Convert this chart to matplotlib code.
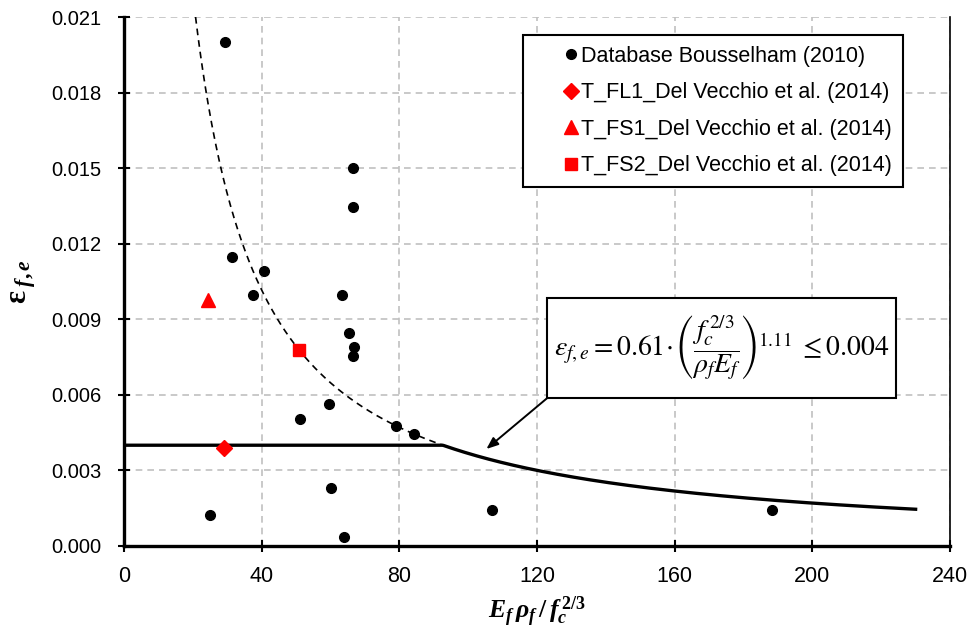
import numpy as np
import matplotlib
matplotlib.use("Agg")
import matplotlib.pyplot as plt
from matplotlib.patches import Rectangle

plt.rcParams['font.family'] = ['Liberation Sans', 'DejaVu Sans']
plt.rcParams['mathtext.fontset'] = 'custom'
plt.rcParams['mathtext.it'] = 'Liberation Serif:italic:bold'
plt.rcParams['mathtext.rm'] = 'Liberation Serif:bold'
plt.rcParams['mathtext.bf'] = 'Liberation Serif:bold'

# database Bousselham (2010)
db_x = [29.3, 31.3, 40.6, 37.4, 63.3, 66.5, 66.5, 65.3, 66.7, 66.5,
        59.5, 51.1, 78.9, 84.2, 60.1, 25.0, 63.8, 106.8, 188.3]
db_y = [0.0200, 0.01147, 0.0109, 0.00996, 0.00996, 0.0150, 0.01346, 0.00846, 0.0079, 0.00754,
        0.00564, 0.00504, 0.00476, 0.00445, 0.0023, 0.00123, 0.00036, 0.00143, 0.00143]

# Del Vecchio et al. (2014)
fl1_x, fl1_y = [29.0], [0.0039]
fs1_x, fs1_y = [24.4], [0.00977]
fs2_x, fs2_y = [50.8], [0.00778]

# model: eps = 0.61 * x^-1.11 <= 0.004
coef = 0.61
expo = 1.11
cap = 0.004
x_end = 230

x_int = (cap / coef) ** (-1.0 / expo)
x_start_dash = (0.021 / coef) ** (-1.0 / expo)

fig = plt.figure(figsize=(9.73, 6.35), dpi=100)
ax = fig.add_axes([0.1274, 0.1402, 0.849, 0.833])

xs = np.linspace(0.01, x_end, 600)
ys = np.minimum(cap, coef * xs ** (-expo))
ax.plot(xs, ys, color='black', lw=2.4, zorder=3)

xd = np.linspace(x_start_dash, x_int, 200)
ax.plot(xd, coef * xd ** (-expo), color='black', lw=1.2, ls=(0, (4, 3)), zorder=3)

ax.plot(db_x, db_y, 'o', color='black', ms=7, ls='none', zorder=4,
        label='Database Bousselham (2010)')
ax.plot(fl1_x, fl1_y, 'D', color='red', ms=8, ls='none', zorder=4,
        label='T_FL1_Del Vecchio et al. (2014)')
ax.plot(fs1_x, fs1_y, '^', color='red', ms=9.5, ls='none', zorder=4,
        label='T_FS1_Del Vecchio et al. (2014)')
ax.plot(fs2_x, fs2_y, 's', color='red', ms=9, ls='none', zorder=4,
        label='T_FS2_Del Vecchio et al. (2014)')

ax.set_xlim(0, 240)
ax.set_ylim(0, 0.021)
ax.set_xticks(np.arange(0, 241, 40))
ax.set_yticks(np.arange(0, 0.0211, 0.003))
ax.set_yticklabels(['%.3f' % v for v in np.arange(0, 0.0211, 0.003)])
ax.tick_params(direction='inout', length=9, width=1.5, color='black')
ax.tick_params(axis='x', pad=10, labelsize=15.5)
ax.tick_params(axis='y', pad=12, labelsize=14.5)

ax.grid(True, color='#c0c0c0', ls=(0, (4, 3)), lw=1.2)
ax.set_axisbelow(True)
for s in ['left', 'bottom']:
    ax.spines[s].set_linewidth(2.4)
ax.spines['right'].set_linewidth(1.2)
ax.spines['top'].set_visible(False)

ax.set_xlabel(r'$E_f\,\rho_f\,/\,f_c^{\,2/3}$', fontsize=18.5, labelpad=5)
ax.set_ylabel(r'$\mathrm{ε}_{\;f,e}$', fontsize=22)
ax.yaxis.set_label_coords(-0.104, 0.5)

leg = ax.legend(loc='upper left', bbox_to_anchor=(0.483, 0.966), fontsize=15.5,
                frameon=True, fancybox=False, edgecolor='black', framealpha=1,
                borderaxespad=0, borderpad=0.5, labelspacing=0.72,
                handlelength=3.5, handletextpad=-1.3, numpoints=1)
leg.get_frame().set_linewidth(1.5)

# formula box with arrow to the capped curve
box_x0, box_x1 = 123.0, 224.3
box_y0, box_y1 = 0.005875, 0.009845
ax.add_patch(Rectangle((box_x0, box_y0), box_x1 - box_x0, box_y1 - box_y0,
                       fc='white', ec='black', lw=1.5, zorder=5))
ax.text((box_x0 + box_x1) / 2, (box_y0 + box_y1) / 2,
        r'$\varepsilon_{f,e} = 0.61\!\cdot\!\left(\dfrac{f_c^{\,2/3}}{\rho_f E_f}\right)^{\!1.11}\;\leq 0.004$',
        ha='center', va='center', fontsize=20, math_fontfamily='stix', zorder=6)
ax.annotate('', xy=(105.3, 0.00385), xytext=(box_x0, box_y0), textcoords='data',
            arrowprops=dict(arrowstyle='-|>,head_length=0.7,head_width=0.28', color='black',
                            lw=1.4, shrinkA=0, shrinkB=0), zorder=6)

fig.savefig('out.png', dpi=100)
